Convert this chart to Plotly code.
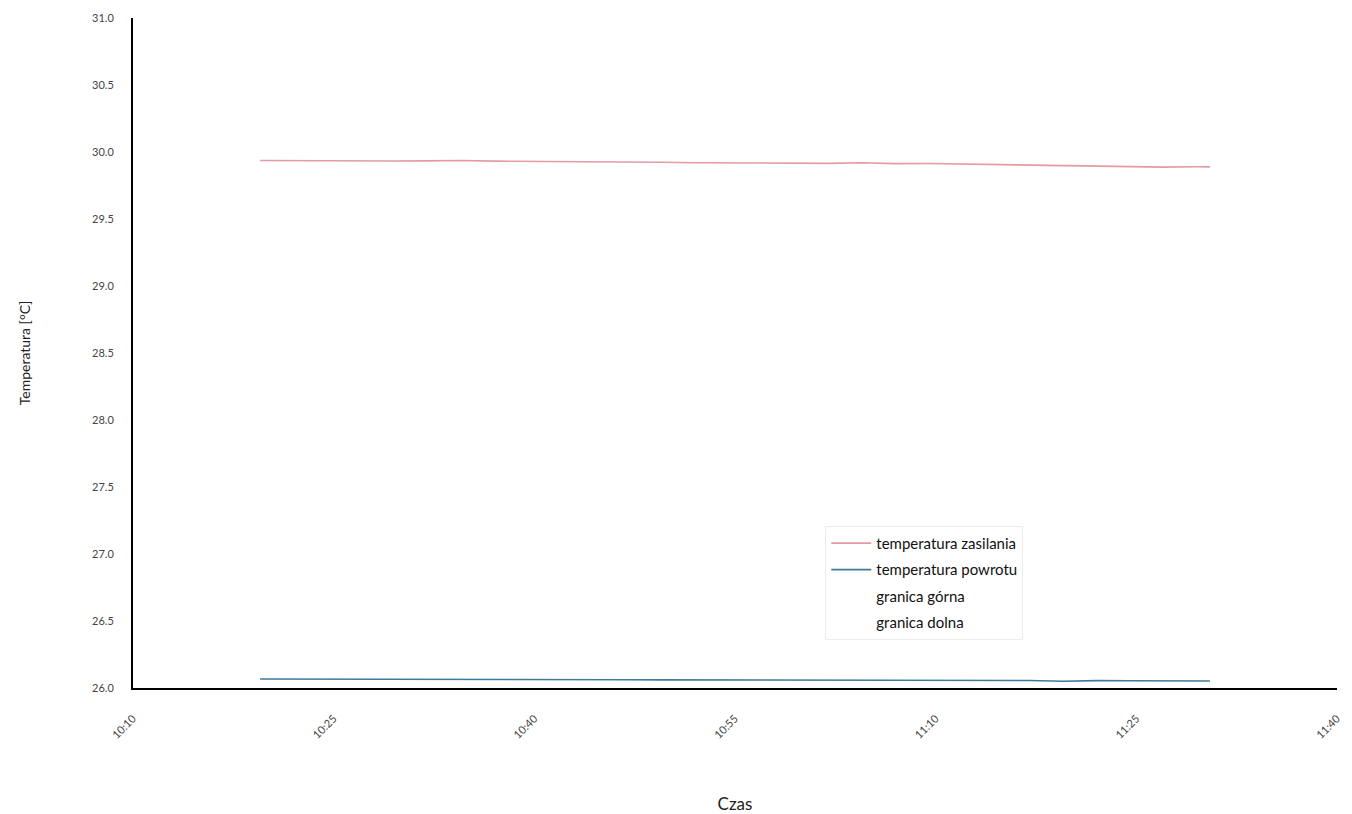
import plotly.graph_objects as go

# --- data ---
times = ["10:19:30", "10:22:00", "10:24:30", "10:27:00", "10:29:30", "10:32:00",
         "10:34:30", "10:37:00", "10:39:30", "10:42:00", "10:44:30", "10:47:00",
         "10:49:30", "10:52:00", "10:54:30", "10:57:00", "10:59:30", "11:02:00",
         "11:04:30", "11:07:00", "11:09:30", "11:12:00", "11:14:30", "11:17:00",
         "11:19:30", "11:22:00", "11:24:30", "11:27:00", "11:29:30", "11:30:30"]
temp_zasilania = [29.937, 29.935, 29.936, 29.934, 29.933, 29.934, 29.937, 29.932,
                  29.931, 29.930, 29.929, 29.926, 29.924, 29.920, 29.919, 29.918,
                  29.917, 29.915, 29.920, 29.913, 29.914, 29.910, 29.909, 29.905,
                  29.900, 29.896, 29.895, 29.887, 29.890, 29.889]
temp_powrotu = [26.067, 26.067, 26.066, 26.066, 26.065, 26.065, 26.064, 26.064,
                26.063, 26.063, 26.062, 26.062, 26.061, 26.061, 26.060, 26.060,
                26.060, 26.059, 26.059, 26.058, 26.058, 26.057, 26.057, 26.056,
                26.050, 26.055, 26.054, 26.053, 26.052, 26.052]
series_names = ["temperatura zasilania", "temperatura powrotu", "granica górna", "granica dolna"]
x_ticks = ["10:10", "10:25", "10:40", "10:55", "11:10", "11:25", "11:40"]
y_ticks = [26.0, 26.5, 27.0, 27.5, 28.0, 28.5, 29.0, 29.5, 30.0, 30.5, 31.0]

DAY = "2020-01-01 "
x_dt = [DAY + t for t in times]
tick_dt = [DAY + t for t in x_ticks]

fig = go.Figure()
fig.add_trace(go.Scatter(x=x_dt, y=temp_zasilania, mode="lines", name=series_names[0],
                         line=dict(color="#e59aa2", width=1.6), legendgroup="a"))
fig.add_trace(go.Scatter(x=x_dt, y=temp_powrotu, mode="lines", name=series_names[1],
                         line=dict(color="#3f7a9c", width=1.6), legendgroup="b"))
fig.add_trace(go.Scatter(x=[None], y=[None], mode="lines", name=series_names[2],
                         line=dict(color="rgba(0,0,0,0)", width=1.5), legendgroup="c"))
fig.add_trace(go.Scatter(x=[None], y=[None], mode="lines", name=series_names[3],
                         line=dict(color="rgba(0,0,0,0)", width=1.5), legendgroup="d"))

fig.update_layout(
    width=1352, height=814,
    margin=dict(l=133, r=15, t=18, b=126),
    paper_bgcolor="white", plot_bgcolor="white",
    font=dict(family="Lato, Open Sans, sans-serif", color="#222"),
    showlegend=True,
    legend=dict(
        x=0.575, y=0.242, xanchor="left", yanchor="top",
        bgcolor="white", bordercolor="#ececec", borderwidth=1,
        font=dict(size=15, color="#111"),
        traceorder="grouped", tracegroupgap=4,
        itemwidth=40,
    ),
    xaxis=dict(
        type="date", automargin=False,
        range=[tick_dt[0], tick_dt[-1]],
        tickvals=tick_dt, ticktext=x_ticks,
        tickangle=-45, tickfont=dict(size=11, color="#444"),
        showgrid=False, zeroline=False,
        showline=True, linecolor="black", linewidth=2,
        ticks="", ticklabelstandoff=18,
        title=dict(text="Czas", font=dict(size=17, color="#222"), standoff=58),
    ),
    yaxis=dict(
        automargin=False,
        range=[26.0, 31.0],
        tickvals=y_ticks, ticktext=[f"{v:.1f}" for v in y_ticks],
        tickfont=dict(size=11, color="#444"),
        showgrid=False, zeroline=False,
        showline=True, linecolor="black", linewidth=2,
        ticks="", ticklabelstandoff=15,
        title=dict(text="Temperatura [°C]", font=dict(size=14, color="#222"), standoff=58),
    ),
)

fig.write_html("out.html")
